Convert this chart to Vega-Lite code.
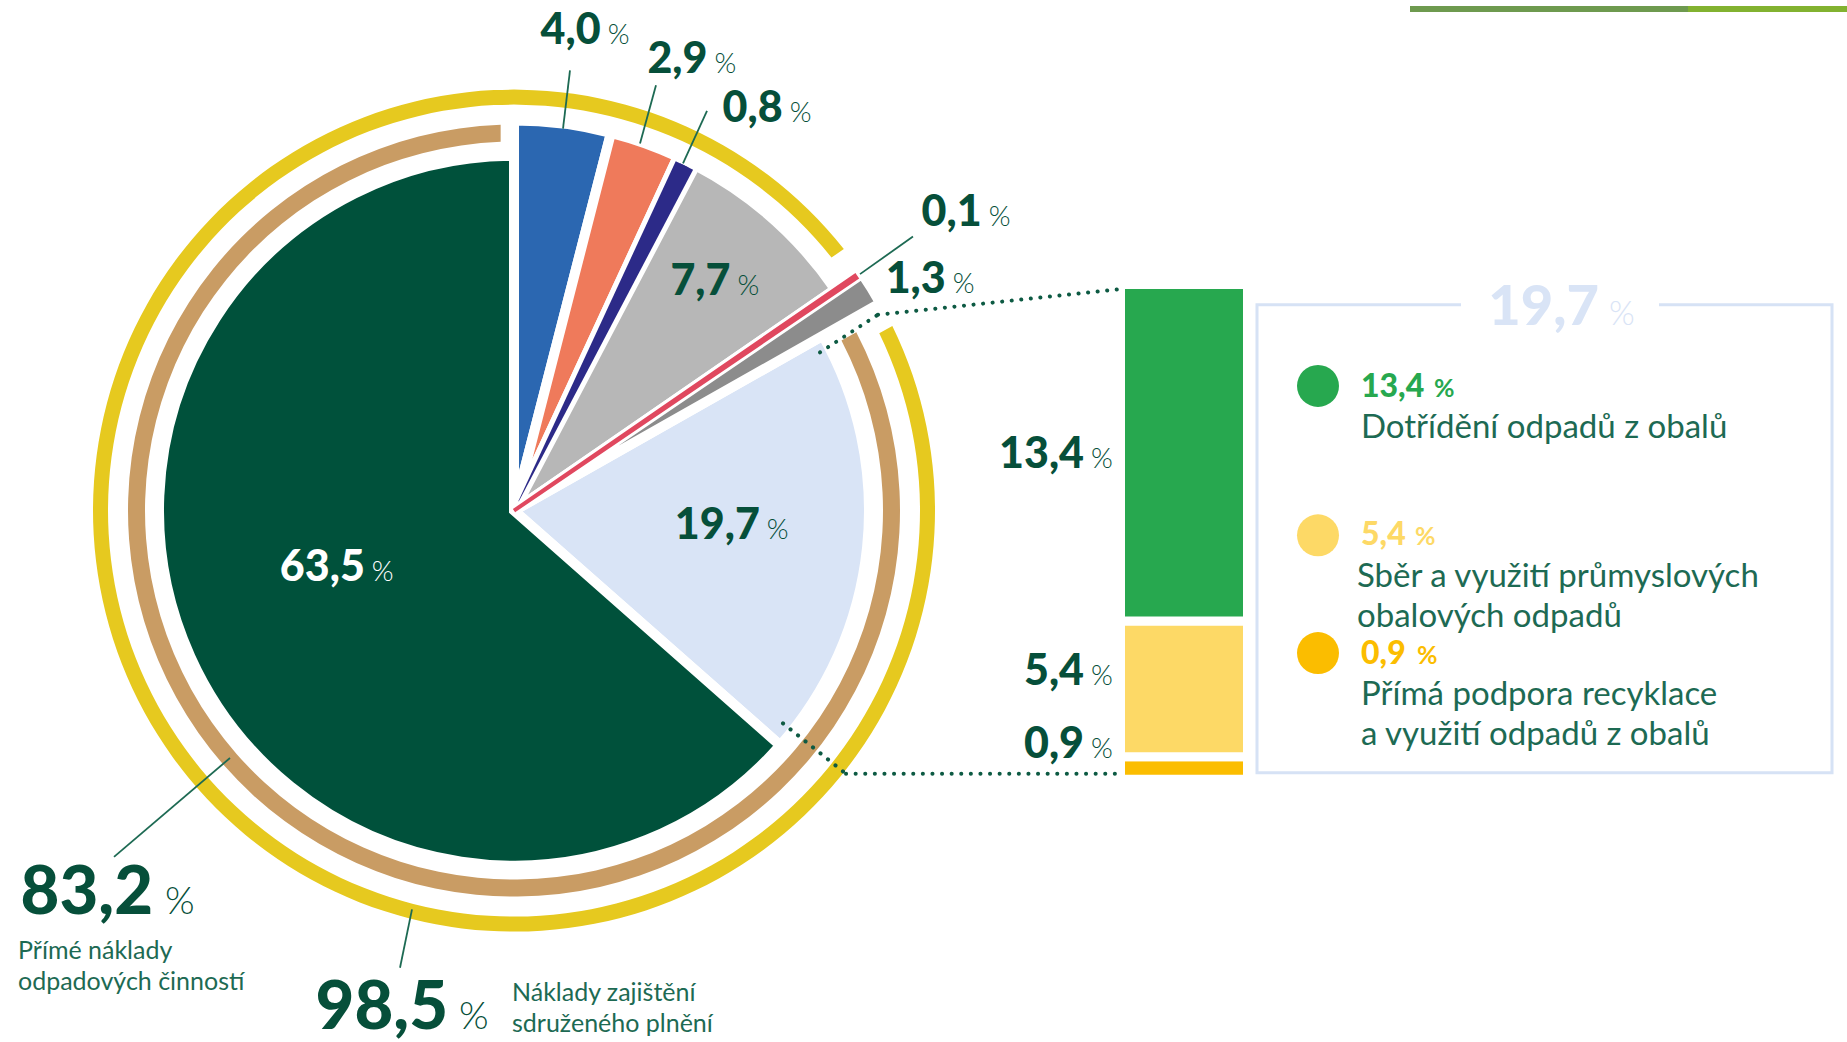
{
  "$schema": "https://vega.github.io/schema/vega-lite/v6.json",
  "width": 1847,
  "height": 1042,
  "autosize": {"type": "fit", "contains": "padding"},
  "padding": 0,
  "background": "white",
  "config": {
    "view": {"stroke": null},
    "locale": {"number": {"decimal": ",", "thousands": " ", "grouping": [3], "currency": ["", " Kč"]}}
  },
  "datasets": {
    "pie": [
      {"key": "S1", "value": 19.7, "order": 1, "grp": "prime"},
      {"key": "S2", "value": 63.5, "order": 2, "grp": "prime"},
      {"key": "S3", "value": 4.0, "order": 3, "grp": "sdruzene"},
      {"key": "S4", "value": 2.9, "order": 4, "grp": "sdruzene"},
      {"key": "S5", "value": 0.8, "order": 5, "grp": "sdruzene"},
      {"key": "S6", "value": 7.7, "order": 6, "grp": "sdruzene"},
      {"key": "S7", "value": 0.1, "order": 7, "grp": "ostatni"},
      {"key": "S8", "value": 1.3, "order": 8, "grp": "ostatni"}
    ],
    "rings": [
      {"key": "prime", "name": "Přímé náklady\nodpadových činností", "value": 83.2},
      {"key": "sdruzene", "name": "Náklady zajištění\nsdruženého plnění", "value": 98.5}
    ],
    "bar": [
      {"key": "B1", "name": "Přímá podpora recyklace\na využití odpadů z obalů", "value": 0.9, "order": 1},
      {"key": "B2", "name": "Sběr a využití průmyslových\nobalových odpadů", "value": 5.4, "order": 2},
      {"key": "B3", "name": "Dotřídění odpadů z obalů", "value": 13.4, "order": 3}
    ]
  },
  "resolve": {"scale": {"y": "independent", "color": "independent"}},
  "layer": [
    {
      "data": {"name": "pie"},
      "encoding": {
        "x": {"datum": 514, "type": "quantitative", "scale": {"domain": [0, 1847], "nice": false, "zero": false}, "axis": null},
        "y": {"datum": 510, "type": "quantitative", "scale": {"domain": [0, 1042], "reverse": true, "nice": false, "zero": false}, "axis": null}
      },
      "layer": [
        {
          "data": {"name": "rings"},
          "transform": [{"filter": "datum.key === 'sdruzene'"}],
          "mark": {"type": "arc", "innerRadius": 406, "outerRadius": 421, "padAngle": 0.088},
          "encoding": {
            "theta": {"field": "value", "type": "quantitative", "stack": true, "scale": {"domain": [0, 100], "range": [1.055575, 7.33876], "zero": false}},
            "color": {"field": "key", "type": "nominal", "legend": null, "scale": {"domain": ["S1", "S2", "S3", "S4", "S5", "S6", "S7", "S8", "prime", "sdruzene"], "range": ["#d9e4f6", "#00513b", "#2b67b1", "#ef7a5b", "#2c2a88", "#b7b7b7", "#e0485f", "#8c8c8c", "#c99c64", "#e6c91f"]}}
          }
        },
        {
          "data": {"name": "rings"},
          "transform": [{"filter": "datum.key === 'prime'"}],
          "mark": {"type": "arc", "innerRadius": 369, "outerRadius": 386, "padAngle": 0.05},
          "encoding": {
            "theta": {"field": "value", "type": "quantitative", "stack": true, "scale": {"domain": [0, 100], "range": [1.055575, 7.33876], "zero": false}},
            "color": {"field": "key", "type": "nominal", "legend": null, "scale": {"domain": ["S1", "S2", "S3", "S4", "S5", "S6", "S7", "S8", "prime", "sdruzene"], "range": ["#d9e4f6", "#00513b", "#2b67b1", "#ef7a5b", "#2c2a88", "#b7b7b7", "#e0485f", "#8c8c8c", "#c99c64", "#e6c91f"]}}
          }
        },
        {
          "transform": [
            {"stack": "value", "groupby": [], "sort": [{"field": "order", "order": "ascending"}], "as": ["s0", "s1"]},
            {"filter": "datum.grp === 'prime'"}
          ],
          "mark": {"type": "arc", "outerRadius": 355, "stroke": "white", "strokeWidth": 10},
          "encoding": {
            "theta": {"field": "s0", "type": "quantitative", "scale": {"domain": [0, 100], "range": [1.055575, 7.33876], "zero": false}},
            "theta2": {"field": "s1"},
            "color": {"field": "key", "type": "nominal", "legend": null, "scale": {"domain": ["S1", "S2", "S3", "S4", "S5", "S6", "S7", "S8", "prime", "sdruzene"], "range": ["#d9e4f6", "#00513b", "#2b67b1", "#ef7a5b", "#2c2a88", "#b7b7b7", "#e0485f", "#8c8c8c", "#c99c64", "#e6c91f"]}}
          }
        },
        {
          "transform": [
            {"stack": "value", "groupby": [], "sort": [{"field": "order", "order": "ascending"}], "as": ["s0", "s1"]},
            {"filter": "datum.grp === 'sdruzene'"}
          ],
          "mark": {"type": "arc", "outerRadius": 390, "stroke": "white", "strokeWidth": 10},
          "encoding": {
            "theta": {"field": "s0", "type": "quantitative", "scale": {"domain": [0, 100], "range": [1.055575, 7.33876], "zero": false}},
            "theta2": {"field": "s1"},
            "color": {"field": "key", "type": "nominal", "legend": null, "scale": {"domain": ["S1", "S2", "S3", "S4", "S5", "S6", "S7", "S8", "prime", "sdruzene"], "range": ["#d9e4f6", "#00513b", "#2b67b1", "#ef7a5b", "#2c2a88", "#b7b7b7", "#e0485f", "#8c8c8c", "#c99c64", "#e6c91f"]}}
          }
        },
        {
          "transform": [
            {"stack": "value", "groupby": [], "sort": [{"field": "order", "order": "ascending"}], "as": ["s0", "s1"]},
            {"filter": "datum.key === 'S5'"}
          ],
          "mark": {"type": "arc", "outerRadius": 385},
          "encoding": {
            "theta": {"field": "s0", "type": "quantitative", "scale": {"domain": [0, 100], "range": [1.055575, 7.33876], "zero": false}},
            "theta2": {"field": "s1"},
            "color": {"field": "key", "type": "nominal", "legend": null, "scale": {"domain": ["S1", "S2", "S3", "S4", "S5", "S6", "S7", "S8", "prime", "sdruzene"], "range": ["#d9e4f6", "#00513b", "#2b67b1", "#ef7a5b", "#2c2a88", "#b7b7b7", "#e0485f", "#8c8c8c", "#c99c64", "#e6c91f"]}}
          }
        },
        {
          "transform": [
            {"stack": "value", "groupby": [], "sort": [{"field": "order", "order": "ascending"}], "as": ["s0", "s1"]},
            {"filter": "datum.grp === 'ostatni'"}
          ],
          "mark": {"type": "arc", "outerRadius": 421, "stroke": "white", "strokeWidth": 10},
          "encoding": {
            "theta": {"field": "s0", "type": "quantitative", "scale": {"domain": [0, 100], "range": [1.055575, 7.33876], "zero": false}},
            "theta2": {"field": "s1"},
            "color": {"field": "key", "type": "nominal", "legend": null, "scale": {"domain": ["S1", "S2", "S3", "S4", "S5", "S6", "S7", "S8", "prime", "sdruzene"], "range": ["#d9e4f6", "#00513b", "#2b67b1", "#ef7a5b", "#2c2a88", "#b7b7b7", "#e0485f", "#8c8c8c", "#c99c64", "#e6c91f"]}}
          }
        },
        {
          "transform": [
            {"stack": "value", "groupby": [], "sort": [{"field": "order", "order": "ascending"}], "as": ["s0", "s1"]},
            {"filter": "datum.key === 'S7'"}
          ],
          "mark": {"type": "arc", "outerRadius": 414, "stroke": "#e0485f", "strokeWidth": 4},
          "encoding": {
            "theta": {"field": "s0", "type": "quantitative", "scale": {"domain": [0, 100], "range": [1.055575, 7.33876], "zero": false}},
            "theta2": {"field": "s1"},
            "color": {"field": "key", "type": "nominal", "legend": null, "scale": {"domain": ["S1", "S2", "S3", "S4", "S5", "S6", "S7", "S8", "prime", "sdruzene"], "range": ["#d9e4f6", "#00513b", "#2b67b1", "#ef7a5b", "#2c2a88", "#b7b7b7", "#e0485f", "#8c8c8c", "#c99c64", "#e6c91f"]}}
          }
        },
        {
          "mark": {"type": "text", "radius": 460, "dx": 29, "dy": -10, "align": "right", "baseline": "alphabetic", "font": "Lato", "fontWeight": 900, "fontSize": 43, "color": "#064f3a"},
          "encoding": {"theta": {"field": "value", "type": "quantitative", "stack": true}, "order": {"field": "order", "type": "quantitative"},
            "text": {"condition": {"test": "datum.key === 'S3'", "field": "value", "type": "quantitative", "format": ".1f"}, "value": ""}}
        },
        {
          "mark": {"type": "text", "radius": 460, "dx": 36, "dy": -10, "align": "left", "baseline": "alphabetic", "font": "Lato", "fontWeight": 300, "fontSize": 28, "color": "#064f3a"},
          "encoding": {"theta": {"field": "value", "type": "quantitative", "stack": true}, "order": {"field": "order", "type": "quantitative"},
            "text": {"condition": {"test": "datum.key === 'S3'", "value": "%"}, "value": ""}}
        },
        {
          "mark": {"type": "text", "radius": 460, "dx": 39, "dy": -4, "align": "right", "baseline": "alphabetic", "font": "Lato", "fontWeight": 900, "fontSize": 43, "color": "#064f3a"},
          "encoding": {"theta": {"field": "value", "type": "quantitative", "stack": true}, "order": {"field": "order", "type": "quantitative"},
            "text": {"condition": {"test": "datum.key === 'S4'", "field": "value", "type": "quantitative", "format": ".1f"}, "value": ""}}
        },
        {
          "mark": {"type": "text", "radius": 460, "dx": 46, "dy": -4, "align": "left", "baseline": "alphabetic", "font": "Lato", "fontWeight": 300, "fontSize": 28, "color": "#064f3a"},
          "encoding": {"theta": {"field": "value", "type": "quantitative", "stack": true}, "order": {"field": "order", "type": "quantitative"},
            "text": {"condition": {"test": "datum.key === 'S4'", "value": "%"}, "value": ""}}
        },
        {
          "mark": {"type": "text", "radius": 460, "dx": 65, "dy": 24, "align": "right", "baseline": "alphabetic", "font": "Lato", "fontWeight": 900, "fontSize": 43, "color": "#064f3a"},
          "encoding": {"theta": {"field": "value", "type": "quantitative", "stack": true}, "order": {"field": "order", "type": "quantitative"},
            "text": {"condition": {"test": "datum.key === 'S5'", "field": "value", "type": "quantitative", "format": ".1f"}, "value": ""}}
        },
        {
          "mark": {"type": "text", "radius": 460, "dx": 72, "dy": 24, "align": "left", "baseline": "alphabetic", "font": "Lato", "fontWeight": 300, "fontSize": 28, "color": "#064f3a"},
          "encoding": {"theta": {"field": "value", "type": "quantitative", "stack": true}, "order": {"field": "order", "type": "quantitative"},
            "text": {"condition": {"test": "datum.key === 'S5'", "value": "%"}, "value": ""}}
        },
        {
          "mark": {"type": "text", "radius": 460, "dx": 88, "dy": -25, "align": "right", "baseline": "alphabetic", "font": "Lato", "fontWeight": 900, "fontSize": 43, "color": "#064f3a"},
          "encoding": {"theta": {"field": "value", "type": "quantitative", "stack": true}, "order": {"field": "order", "type": "quantitative"},
            "text": {"condition": {"test": "datum.key === 'S7'", "field": "value", "type": "quantitative", "format": ".1f"}, "value": ""}}
        },
        {
          "mark": {"type": "text", "radius": 460, "dx": 95, "dy": -25, "align": "left", "baseline": "alphabetic", "font": "Lato", "fontWeight": 300, "fontSize": 28, "color": "#064f3a"},
          "encoding": {"theta": {"field": "value", "type": "quantitative", "stack": true}, "order": {"field": "order", "type": "quantitative"},
            "text": {"condition": {"test": "datum.key === 'S7'", "value": "%"}, "value": ""}}
        },
        {
          "mark": {"type": "text", "radius": 460, "dx": 41, "dy": 25, "align": "right", "baseline": "alphabetic", "font": "Lato", "fontWeight": 900, "fontSize": 43, "color": "#064f3a"},
          "encoding": {"theta": {"field": "value", "type": "quantitative", "stack": true}, "order": {"field": "order", "type": "quantitative"},
            "text": {"condition": {"test": "datum.key === 'S8'", "field": "value", "type": "quantitative", "format": ".1f"}, "value": ""}}
        },
        {
          "mark": {"type": "text", "radius": 460, "dx": 48, "dy": 25, "align": "left", "baseline": "alphabetic", "font": "Lato", "fontWeight": 300, "fontSize": 28, "color": "#064f3a"},
          "encoding": {"theta": {"field": "value", "type": "quantitative", "stack": true}, "order": {"field": "order", "type": "quantitative"},
            "text": {"condition": {"test": "datum.key === 'S8'", "value": "%"}, "value": ""}}
        },
        {
          "mark": {"type": "text", "radius": 290, "dx": 24, "dy": 1, "align": "right", "baseline": "alphabetic", "font": "Lato", "fontWeight": 900, "fontSize": 43, "color": "#064f3a"},
          "encoding": {"theta": {"field": "value", "type": "quantitative", "stack": true}, "order": {"field": "order", "type": "quantitative"},
            "text": {"condition": {"test": "datum.key === 'S6'", "field": "value", "type": "quantitative", "format": ".1f"}, "value": ""}}
        },
        {
          "mark": {"type": "text", "radius": 290, "dx": 31, "dy": 1, "align": "left", "baseline": "alphabetic", "font": "Lato", "fontWeight": 300, "fontSize": 28, "color": "#064f3a"},
          "encoding": {"theta": {"field": "value", "type": "quantitative", "stack": true}, "order": {"field": "order", "type": "quantitative"},
            "text": {"condition": {"test": "datum.key === 'S6'", "value": "%"}, "value": ""}}
        },
        {
          "mark": {"type": "text", "radius": 215, "dx": 32, "dy": 6, "align": "right", "baseline": "alphabetic", "font": "Lato", "fontWeight": 900, "fontSize": 43, "color": "#064f3a"},
          "encoding": {"theta": {"field": "value", "type": "quantitative", "stack": true}, "order": {"field": "order", "type": "quantitative"},
            "text": {"condition": {"test": "datum.key === 'S1'", "field": "value", "type": "quantitative", "format": ".1f"}, "value": ""}}
        },
        {
          "mark": {"type": "text", "radius": 215, "dx": 39, "dy": 6, "align": "left", "baseline": "alphabetic", "font": "Lato", "fontWeight": 300, "fontSize": 28, "color": "#064f3a"},
          "encoding": {"theta": {"field": "value", "type": "quantitative", "stack": true}, "order": {"field": "order", "type": "quantitative"},
            "text": {"condition": {"test": "datum.key === 'S1'", "value": "%"}, "value": ""}}
        },
        {
          "mark": {"type": "text", "radius": 190, "dx": 24, "dy": -8, "align": "right", "baseline": "alphabetic", "font": "Lato", "fontWeight": 900, "fontSize": 43, "color": "#ffffff"},
          "encoding": {"theta": {"field": "value", "type": "quantitative", "stack": true}, "order": {"field": "order", "type": "quantitative"},
            "text": {"condition": {"test": "datum.key === 'S2'", "field": "value", "type": "quantitative", "format": ".1f"}, "value": ""}}
        },
        {
          "mark": {"type": "text", "radius": 190, "dx": 31, "dy": -8, "align": "left", "baseline": "alphabetic", "font": "Lato", "fontWeight": 300, "fontSize": 28, "color": "#ffffff"},
          "encoding": {"theta": {"field": "value", "type": "quantitative", "stack": true}, "order": {"field": "order", "type": "quantitative"},
            "text": {"condition": {"test": "datum.key === 'S2'", "value": "%"}, "value": ""}}
        }
      ]
    },
    {
      "data": {"name": "bar"},
      "transform": [{"stack": "value", "groupby": [], "sort": [{"field": "order", "order": "ascending"}], "as": ["b0", "b1"]}],
      "layer": [
        {
          "mark": {"type": "rect", "stroke": "white", "strokeWidth": 9},
          "encoding": {
            "x": {"datum": 1120.5, "type": "quantitative", "scale": {"domain": [0, 1847], "nice": false, "zero": false}, "axis": null},
            "x2": {"datum": 1247.5},
            "y": {"field": "b0", "type": "quantitative", "scale": {"domain": [-10.2636, 30.79], "nice": false, "zero": false}, "axis": null},
            "y2": {"field": "b1"},
            "color": {"field": "key", "type": "nominal", "legend": null, "scale": {"domain": ["B1", "B2", "B3"], "range": ["#fbbd00", "#fdd966", "#27a84f"]}}
          }
        },
        {
          "transform": [{"filter": "datum.key === 'B3'"}],
          "mark": {"type": "text", "align": "right", "baseline": "alphabetic", "dy": 183.5, "font": "Lato", "fontWeight": 900, "fontSize": 43, "color": "#064f3a"},
          "encoding": {
            "x": {"datum": 1084, "type": "quantitative", "scale": {"domain": [0, 1847], "nice": false, "zero": false}, "axis": null},
            "y": {"field": "b1", "type": "quantitative", "scale": {"domain": [-10.2636, 30.79], "nice": false, "zero": false}, "axis": null},
            "text": {"field": "value", "type": "quantitative", "format": ".1f"}
          }
        },
        {
          "transform": [{"filter": "datum.key === 'B3'"}],
          "mark": {"type": "text", "align": "left", "baseline": "alphabetic", "dy": 183.5, "font": "Lato", "fontWeight": 300, "fontSize": 28, "color": "#064f3a", "text": "%"},
          "encoding": {
            "x": {"datum": 1091, "type": "quantitative", "scale": {"domain": [0, 1847], "nice": false, "zero": false}, "axis": null},
            "y": {"field": "b1", "type": "quantitative", "scale": {"domain": [-10.2636, 30.79], "nice": false, "zero": false}, "axis": null}
          }
        },
        {
          "transform": [{"filter": "datum.key === 'B2'"}],
          "mark": {"type": "text", "align": "right", "baseline": "alphabetic", "dy": 64.4, "font": "Lato", "fontWeight": 900, "fontSize": 43, "color": "#064f3a"},
          "encoding": {
            "x": {"datum": 1084, "type": "quantitative", "scale": {"domain": [0, 1847], "nice": false, "zero": false}, "axis": null},
            "y": {"field": "b1", "type": "quantitative", "scale": {"domain": [-10.2636, 30.79], "nice": false, "zero": false}, "axis": null},
            "text": {"field": "value", "type": "quantitative", "format": ".1f"}
          }
        },
        {
          "transform": [{"filter": "datum.key === 'B2'"}],
          "mark": {"type": "text", "align": "left", "baseline": "alphabetic", "dy": 64.4, "font": "Lato", "fontWeight": 300, "fontSize": 28, "color": "#064f3a", "text": "%"},
          "encoding": {
            "x": {"datum": 1091, "type": "quantitative", "scale": {"domain": [0, 1847], "nice": false, "zero": false}, "axis": null},
            "y": {"field": "b1", "type": "quantitative", "scale": {"domain": [-10.2636, 30.79], "nice": false, "zero": false}, "axis": null}
          }
        },
        {
          "transform": [{"filter": "datum.key === 'B1'"}],
          "mark": {"type": "text", "align": "right", "baseline": "alphabetic", "dy": 1.3, "font": "Lato", "fontWeight": 900, "fontSize": 43, "color": "#064f3a"},
          "encoding": {
            "x": {"datum": 1084, "type": "quantitative", "scale": {"domain": [0, 1847], "nice": false, "zero": false}, "axis": null},
            "y": {"field": "b1", "type": "quantitative", "scale": {"domain": [-10.2636, 30.79], "nice": false, "zero": false}, "axis": null},
            "text": {"field": "value", "type": "quantitative", "format": ".1f"}
          }
        },
        {
          "transform": [{"filter": "datum.key === 'B1'"}],
          "mark": {"type": "text", "align": "left", "baseline": "alphabetic", "dy": 1.3, "font": "Lato", "fontWeight": 300, "fontSize": 28, "color": "#064f3a", "text": "%"},
          "encoding": {
            "x": {"datum": 1091, "type": "quantitative", "scale": {"domain": [0, 1847], "nice": false, "zero": false}, "axis": null},
            "y": {"field": "b1", "type": "quantitative", "scale": {"domain": [-10.2636, 30.79], "nice": false, "zero": false}, "axis": null}
          }
        }
      ]
    },
    {
      "layer": [
        {
          "data": {"name": "pie"}, "transform": [{"filter": "datum.key === 'S3'"}],
          "mark": {"type": "rule", "color": "#1d6a53", "strokeWidth": 1.8},
          "encoding": {
            "x": {"datum": 563, "type": "quantitative", "scale": {"domain": [0, 1847], "nice": false, "zero": false}, "axis": null},
            "y": {"datum": 124, "type": "quantitative", "scale": {"domain": [0, 1042], "reverse": true, "nice": false, "zero": false}, "axis": null},
            "x2": {"datum": 570}, "y2": {"datum": 65}
          }
        },
        {
          "data": {"name": "pie"}, "transform": [{"filter": "datum.key === 'S4'"}],
          "mark": {"type": "rule", "color": "#1d6a53", "strokeWidth": 1.8},
          "encoding": {
            "x": {"datum": 640, "type": "quantitative", "scale": {"domain": [0, 1847], "nice": false, "zero": false}, "axis": null},
            "y": {"datum": 139, "type": "quantitative", "scale": {"domain": [0, 1042], "reverse": true, "nice": false, "zero": false}, "axis": null},
            "x2": {"datum": 656}, "y2": {"datum": 80}
          }
        },
        {
          "data": {"name": "pie"}, "transform": [{"filter": "datum.key === 'S5'"}],
          "mark": {"type": "rule", "color": "#1d6a53", "strokeWidth": 1.8},
          "encoding": {
            "x": {"datum": 683, "type": "quantitative", "scale": {"domain": [0, 1847], "nice": false, "zero": false}, "axis": null},
            "y": {"datum": 159, "type": "quantitative", "scale": {"domain": [0, 1042], "reverse": true, "nice": false, "zero": false}, "axis": null},
            "x2": {"datum": 707}, "y2": {"datum": 106}
          }
        },
        {
          "data": {"name": "pie"}, "transform": [{"filter": "datum.key === 'S7'"}],
          "mark": {"type": "rule", "color": "#1d6a53", "strokeWidth": 1.8},
          "encoding": {
            "x": {"datum": 860, "type": "quantitative", "scale": {"domain": [0, 1847], "nice": false, "zero": false}, "axis": null},
            "y": {"datum": 271, "type": "quantitative", "scale": {"domain": [0, 1042], "reverse": true, "nice": false, "zero": false}, "axis": null},
            "x2": {"datum": 913}, "y2": {"datum": 233}
          }
        },
        {
          "data": {"name": "rings"}, "transform": [{"filter": "datum.key === 'prime'"}],
          "mark": {"type": "rule", "color": "#1d6a53", "strokeWidth": 1.8},
          "encoding": {
            "x": {"datum": 230, "type": "quantitative", "scale": {"domain": [0, 1847], "nice": false, "zero": false}, "axis": null},
            "y": {"datum": 760, "type": "quantitative", "scale": {"domain": [0, 1042], "reverse": true, "nice": false, "zero": false}, "axis": null},
            "x2": {"datum": 114}, "y2": {"datum": 860}
          }
        },
        {
          "data": {"name": "rings"}, "transform": [{"filter": "datum.key === 'sdruzene'"}],
          "mark": {"type": "rule", "color": "#1d6a53", "strokeWidth": 1.8},
          "encoding": {
            "x": {"datum": 412, "type": "quantitative", "scale": {"domain": [0, 1847], "nice": false, "zero": false}, "axis": null},
            "y": {"datum": 913, "type": "quantitative", "scale": {"domain": [0, 1042], "reverse": true, "nice": false, "zero": false}, "axis": null},
            "x2": {"datum": 400}, "y2": {"datum": 972}
          }
        },
        {
          "data": {"name": "pie"}, "transform": [{"filter": "datum.key === 'S1'"}],
          "mark": {"type": "rule", "color": "#0d5a43", "strokeWidth": 4, "strokeCap": "round", "strokeDash": [0.1, 9.5]},
          "encoding": {
            "x": {"datum": 820, "type": "quantitative", "scale": {"domain": [0, 1847], "nice": false, "zero": false}, "axis": null},
            "y": {"datum": 350, "type": "quantitative", "scale": {"domain": [0, 1042], "reverse": true, "nice": false, "zero": false}, "axis": null},
            "x2": {"datum": 878}, "y2": {"datum": 312}
          }
        },
        {
          "data": {"name": "pie"}, "transform": [{"filter": "datum.key === 'S1'"}],
          "mark": {"type": "rule", "color": "#0d5a43", "strokeWidth": 4, "strokeCap": "round", "strokeDash": [0.1, 9.5]},
          "encoding": {
            "x": {"datum": 878, "type": "quantitative", "scale": {"domain": [0, 1847], "nice": false, "zero": false}, "axis": null},
            "y": {"datum": 312, "type": "quantitative", "scale": {"domain": [0, 1042], "reverse": true, "nice": false, "zero": false}, "axis": null},
            "x2": {"datum": 1122}, "y2": {"datum": 286}
          }
        },
        {
          "data": {"name": "pie"}, "transform": [{"filter": "datum.key === 'S1'"}],
          "mark": {"type": "rule", "color": "#0d5a43", "strokeWidth": 4, "strokeCap": "round", "strokeDash": [0.1, 9.5]},
          "encoding": {
            "x": {"datum": 783, "type": "quantitative", "scale": {"domain": [0, 1847], "nice": false, "zero": false}, "axis": null},
            "y": {"datum": 725, "type": "quantitative", "scale": {"domain": [0, 1042], "reverse": true, "nice": false, "zero": false}, "axis": null},
            "x2": {"datum": 846}, "y2": {"datum": 776}
          }
        },
        {
          "data": {"name": "pie"}, "transform": [{"filter": "datum.key === 'S1'"}],
          "mark": {"type": "rule", "color": "#0d5a43", "strokeWidth": 4, "strokeCap": "round", "strokeDash": [0.1, 9.5]},
          "encoding": {
            "x": {"datum": 846, "type": "quantitative", "scale": {"domain": [0, 1847], "nice": false, "zero": false}, "axis": null},
            "y": {"datum": 776, "type": "quantitative", "scale": {"domain": [0, 1042], "reverse": true, "nice": false, "zero": false}, "axis": null},
            "x2": {"datum": 1122}, "y2": {"datum": 776}
          }
        },
        {
          "data": {"name": "pie"}, "transform": [{"filter": "datum.key === 'S1'"}],
          "mark": {"type": "rect", "filled": false, "color": "#d6e2f5", "strokeWidth": 3},
          "encoding": {
            "x": {"datum": 1257, "type": "quantitative", "scale": {"domain": [0, 1847], "nice": false, "zero": false}, "axis": null},
            "y": {"datum": 302, "type": "quantitative", "scale": {"domain": [0, 1042], "reverse": true, "nice": false, "zero": false}, "axis": null},
            "x2": {"datum": 1832}, "y2": {"datum": 775}
          }
        },
        {
          "data": {"name": "pie"}, "transform": [{"filter": "datum.key === 'S1'"}],
          "mark": {"type": "rect", "color": "#ffffff"},
          "encoding": {
            "x": {"datum": 1461, "type": "quantitative", "scale": {"domain": [0, 1847], "nice": false, "zero": false}, "axis": null},
            "y": {"datum": 294, "type": "quantitative", "scale": {"domain": [0, 1042], "reverse": true, "nice": false, "zero": false}, "axis": null},
            "x2": {"datum": 1659}, "y2": {"datum": 310}
          }
        },
        {
          "data": {"name": "pie"}, "transform": [{"filter": "datum.key === 'S1'"}],
          "mark": {"type": "text", "align": "right", "baseline": "alphabetic", "font": "Lato", "fontWeight": 900, "fontSize": 56, "color": "#d9e4f6"},
          "encoding": {
            "x": {"datum": 1599, "type": "quantitative", "scale": {"domain": [0, 1847], "nice": false, "zero": false}, "axis": null},
            "y": {"datum": 322, "type": "quantitative", "scale": {"domain": [0, 1042], "reverse": true, "nice": false, "zero": false}, "axis": null},
            "text": {"field": "value", "type": "quantitative", "format": ".1f"}
          }
        },
        {
          "data": {"name": "pie"}, "transform": [{"filter": "datum.key === 'S1'"}],
          "mark": {"type": "text", "align": "left", "baseline": "alphabetic", "font": "Lato", "fontWeight": 300, "fontSize": 33, "color": "#d9e4f6", "text": "%"},
          "encoding": {
            "x": {"datum": 1609, "type": "quantitative", "scale": {"domain": [0, 1847], "nice": false, "zero": false}, "axis": null},
            "y": {"datum": 322, "type": "quantitative", "scale": {"domain": [0, 1042], "reverse": true, "nice": false, "zero": false}, "axis": null}
          }
        },
        {
          "data": {"name": "rings"}, "transform": [{"filter": "datum.key === 'prime'"}],
          "mark": {"type": "text", "align": "right", "baseline": "alphabetic", "font": "Lato", "fontWeight": 900, "fontSize": 67, "color": "#064f3a"},
          "encoding": {
            "x": {"datum": 153, "type": "quantitative", "scale": {"domain": [0, 1847], "nice": false, "zero": false}, "axis": null},
            "y": {"datum": 918, "type": "quantitative", "scale": {"domain": [0, 1042], "reverse": true, "nice": false, "zero": false}, "axis": null},
            "text": {"field": "value", "type": "quantitative", "format": ".1f"}
          }
        },
        {
          "data": {"name": "rings"}, "transform": [{"filter": "datum.key === 'prime'"}],
          "mark": {"type": "text", "align": "left", "baseline": "alphabetic", "font": "Lato", "fontWeight": 300, "fontSize": 38, "color": "#064f3a", "text": "%"},
          "encoding": {
            "x": {"datum": 165, "type": "quantitative", "scale": {"domain": [0, 1847], "nice": false, "zero": false}, "axis": null},
            "y": {"datum": 918, "type": "quantitative", "scale": {"domain": [0, 1042], "reverse": true, "nice": false, "zero": false}, "axis": null}
          }
        },
        {
          "data": {"name": "rings"}, "transform": [{"filter": "datum.key === 'prime'"}],
          "mark": {"type": "text", "align": "left", "baseline": "alphabetic", "font": "Lato", "fontSize": 25, "lineHeight": 31, "lineBreak": "\n", "color": "#1d6a53"},
          "encoding": {
            "x": {"datum": 18, "type": "quantitative", "scale": {"domain": [0, 1847], "nice": false, "zero": false}, "axis": null},
            "y": {"datum": 963, "type": "quantitative", "scale": {"domain": [0, 1042], "reverse": true, "nice": false, "zero": false}, "axis": null},
            "text": {"field": "name", "type": "nominal"}
          }
        },
        {
          "data": {"name": "rings"}, "transform": [{"filter": "datum.key === 'sdruzene'"}],
          "mark": {"type": "text", "align": "right", "baseline": "alphabetic", "font": "Lato", "fontWeight": 900, "fontSize": 67, "color": "#064f3a"},
          "encoding": {
            "x": {"datum": 448, "type": "quantitative", "scale": {"domain": [0, 1847], "nice": false, "zero": false}, "axis": null},
            "y": {"datum": 1034, "type": "quantitative", "scale": {"domain": [0, 1042], "reverse": true, "nice": false, "zero": false}, "axis": null},
            "text": {"field": "value", "type": "quantitative", "format": ".1f"}
          }
        },
        {
          "data": {"name": "rings"}, "transform": [{"filter": "datum.key === 'sdruzene'"}],
          "mark": {"type": "text", "align": "left", "baseline": "alphabetic", "font": "Lato", "fontWeight": 300, "fontSize": 38, "color": "#064f3a", "text": "%"},
          "encoding": {
            "x": {"datum": 459, "type": "quantitative", "scale": {"domain": [0, 1847], "nice": false, "zero": false}, "axis": null},
            "y": {"datum": 1034, "type": "quantitative", "scale": {"domain": [0, 1042], "reverse": true, "nice": false, "zero": false}, "axis": null}
          }
        },
        {
          "data": {"name": "rings"}, "transform": [{"filter": "datum.key === 'sdruzene'"}],
          "mark": {"type": "text", "align": "left", "baseline": "alphabetic", "font": "Lato", "fontSize": 25, "lineHeight": 31, "lineBreak": "\n", "color": "#1d6a53"},
          "encoding": {
            "x": {"datum": 512, "type": "quantitative", "scale": {"domain": [0, 1847], "nice": false, "zero": false}, "axis": null},
            "y": {"datum": 1006, "type": "quantitative", "scale": {"domain": [0, 1042], "reverse": true, "nice": false, "zero": false}, "axis": null},
            "text": {"field": "name", "type": "nominal"}
          }
        },
        {
          "data": {"name": "bar"}, "transform": [{"filter": "datum.key === 'B3'"}],
          "mark": {"type": "point", "filled": true, "size": 1764, "opacity": 1},
          "encoding": {
            "x": {"datum": 1318, "type": "quantitative", "scale": {"domain": [0, 1847], "nice": false, "zero": false}, "axis": null},
            "y": {"datum": 384, "type": "quantitative", "scale": {"domain": [0, 1042], "reverse": true, "nice": false, "zero": false}, "axis": null},
            "color": {"field": "key", "type": "nominal", "legend": null, "scale": {"domain": ["B1", "B2", "B3"], "range": ["#fbbd00", "#fdd966", "#27a84f"]}}
          }
        },
        {
          "data": {"name": "bar"}, "transform": [{"filter": "datum.key === 'B2'"}],
          "mark": {"type": "point", "filled": true, "size": 1764, "opacity": 1},
          "encoding": {
            "x": {"datum": 1318, "type": "quantitative", "scale": {"domain": [0, 1847], "nice": false, "zero": false}, "axis": null},
            "y": {"datum": 535, "type": "quantitative", "scale": {"domain": [0, 1042], "reverse": true, "nice": false, "zero": false}, "axis": null},
            "color": {"field": "key", "type": "nominal", "legend": null, "scale": {"domain": ["B1", "B2", "B3"], "range": ["#fbbd00", "#fdd966", "#27a84f"]}}
          }
        },
        {
          "data": {"name": "bar"}, "transform": [{"filter": "datum.key === 'B1'"}],
          "mark": {"type": "point", "filled": true, "size": 1764, "opacity": 1},
          "encoding": {
            "x": {"datum": 1318, "type": "quantitative", "scale": {"domain": [0, 1847], "nice": false, "zero": false}, "axis": null},
            "y": {"datum": 654, "type": "quantitative", "scale": {"domain": [0, 1042], "reverse": true, "nice": false, "zero": false}, "axis": null},
            "color": {"field": "key", "type": "nominal", "legend": null, "scale": {"domain": ["B1", "B2", "B3"], "range": ["#fbbd00", "#fdd966", "#27a84f"]}}
          }
        },
        {
          "data": {"name": "bar"}, "transform": [{"filter": "datum.key === 'B3'"}],
          "mark": {"type": "text", "align": "left", "baseline": "alphabetic", "font": "Lato", "fontWeight": 900, "fontSize": 32},
          "encoding": {
            "x": {"datum": 1361, "type": "quantitative", "scale": {"domain": [0, 1847], "nice": false, "zero": false}, "axis": null},
            "y": {"datum": 395, "type": "quantitative", "scale": {"domain": [0, 1042], "reverse": true, "nice": false, "zero": false}, "axis": null},
            "text": {"field": "value", "type": "quantitative", "format": ".1f"},
            "color": {"field": "key", "type": "nominal", "legend": null, "scale": {"domain": ["B1", "B2", "B3"], "range": ["#fbbd00", "#fdd966", "#27a84f"]}}
          }
        },
        {
          "data": {"name": "bar"}, "transform": [{"filter": "datum.key === 'B3'"}],
          "mark": {"type": "text", "align": "left", "baseline": "alphabetic", "font": "Lato", "fontWeight": "bold", "fontSize": 25, "text": "%"},
          "encoding": {
            "x": {"datum": 1434, "type": "quantitative", "scale": {"domain": [0, 1847], "nice": false, "zero": false}, "axis": null},
            "y": {"datum": 395, "type": "quantitative", "scale": {"domain": [0, 1042], "reverse": true, "nice": false, "zero": false}, "axis": null},
            "color": {"field": "key", "type": "nominal", "legend": null, "scale": {"domain": ["B1", "B2", "B3"], "range": ["#fbbd00", "#fdd966", "#27a84f"]}}
          }
        },
        {
          "data": {"name": "bar"}, "transform": [{"filter": "datum.key === 'B2'"}],
          "mark": {"type": "text", "align": "left", "baseline": "alphabetic", "font": "Lato", "fontWeight": 900, "fontSize": 32},
          "encoding": {
            "x": {"datum": 1361, "type": "quantitative", "scale": {"domain": [0, 1847], "nice": false, "zero": false}, "axis": null},
            "y": {"datum": 545, "type": "quantitative", "scale": {"domain": [0, 1042], "reverse": true, "nice": false, "zero": false}, "axis": null},
            "text": {"field": "value", "type": "quantitative", "format": ".1f"},
            "color": {"field": "key", "type": "nominal", "legend": null, "scale": {"domain": ["B1", "B2", "B3"], "range": ["#fbbd00", "#fdd966", "#27a84f"]}}
          }
        },
        {
          "data": {"name": "bar"}, "transform": [{"filter": "datum.key === 'B2'"}],
          "mark": {"type": "text", "align": "left", "baseline": "alphabetic", "font": "Lato", "fontWeight": "bold", "fontSize": 25, "text": "%"},
          "encoding": {
            "x": {"datum": 1415, "type": "quantitative", "scale": {"domain": [0, 1847], "nice": false, "zero": false}, "axis": null},
            "y": {"datum": 545, "type": "quantitative", "scale": {"domain": [0, 1042], "reverse": true, "nice": false, "zero": false}, "axis": null},
            "color": {"field": "key", "type": "nominal", "legend": null, "scale": {"domain": ["B1", "B2", "B3"], "range": ["#fbbd00", "#fdd966", "#27a84f"]}}
          }
        },
        {
          "data": {"name": "bar"}, "transform": [{"filter": "datum.key === 'B1'"}],
          "mark": {"type": "text", "align": "left", "baseline": "alphabetic", "font": "Lato", "fontWeight": 900, "fontSize": 32},
          "encoding": {
            "x": {"datum": 1361, "type": "quantitative", "scale": {"domain": [0, 1847], "nice": false, "zero": false}, "axis": null},
            "y": {"datum": 665, "type": "quantitative", "scale": {"domain": [0, 1042], "reverse": true, "nice": false, "zero": false}, "axis": null},
            "text": {"field": "value", "type": "quantitative", "format": ".1f"},
            "color": {"field": "key", "type": "nominal", "legend": null, "scale": {"domain": ["B1", "B2", "B3"], "range": ["#fbbd00", "#fdd966", "#27a84f"]}}
          }
        },
        {
          "data": {"name": "bar"}, "transform": [{"filter": "datum.key === 'B1'"}],
          "mark": {"type": "text", "align": "left", "baseline": "alphabetic", "font": "Lato", "fontWeight": "bold", "fontSize": 25, "text": "%"},
          "encoding": {
            "x": {"datum": 1417, "type": "quantitative", "scale": {"domain": [0, 1847], "nice": false, "zero": false}, "axis": null},
            "y": {"datum": 665, "type": "quantitative", "scale": {"domain": [0, 1042], "reverse": true, "nice": false, "zero": false}, "axis": null},
            "color": {"field": "key", "type": "nominal", "legend": null, "scale": {"domain": ["B1", "B2", "B3"], "range": ["#fbbd00", "#fdd966", "#27a84f"]}}
          }
        },
        {
          "data": {"name": "bar"}, "transform": [{"filter": "datum.key === 'B3'"}],
          "mark": {"type": "text", "align": "left", "baseline": "alphabetic", "font": "Lato", "fontSize": 33, "lineHeight": 40, "lineBreak": "\n", "color": "#1d6a53"},
          "encoding": {
            "x": {"datum": 1361, "type": "quantitative", "scale": {"domain": [0, 1847], "nice": false, "zero": false}, "axis": null},
            "y": {"datum": 437, "type": "quantitative", "scale": {"domain": [0, 1042], "reverse": true, "nice": false, "zero": false}, "axis": null},
            "text": {"field": "name", "type": "nominal"}
          }
        },
        {
          "data": {"name": "bar"}, "transform": [{"filter": "datum.key === 'B2'"}],
          "mark": {"type": "text", "align": "left", "baseline": "alphabetic", "font": "Lato", "fontSize": 33, "lineHeight": 40, "lineBreak": "\n", "color": "#1d6a53"},
          "encoding": {
            "x": {"datum": 1357, "type": "quantitative", "scale": {"domain": [0, 1847], "nice": false, "zero": false}, "axis": null},
            "y": {"datum": 587, "type": "quantitative", "scale": {"domain": [0, 1042], "reverse": true, "nice": false, "zero": false}, "axis": null},
            "text": {"field": "name", "type": "nominal"}
          }
        },
        {
          "data": {"name": "bar"}, "transform": [{"filter": "datum.key === 'B1'"}],
          "mark": {"type": "text", "align": "left", "baseline": "alphabetic", "font": "Lato", "fontSize": 33, "lineHeight": 40, "lineBreak": "\n", "color": "#1d6a53"},
          "encoding": {
            "x": {"datum": 1361, "type": "quantitative", "scale": {"domain": [0, 1847], "nice": false, "zero": false}, "axis": null},
            "y": {"datum": 706, "type": "quantitative", "scale": {"domain": [0, 1042], "reverse": true, "nice": false, "zero": false}, "axis": null},
            "text": {"field": "name", "type": "nominal"}
          }
        },
        {
          "data": {"name": "pie"}, "transform": [{"filter": "datum.key === 'S1'"}],
          "mark": {"type": "rect", "color": "#6e9a4f"},
          "encoding": {
            "x": {"datum": 1410, "type": "quantitative", "scale": {"domain": [0, 1847], "nice": false, "zero": false}, "axis": null},
            "y": {"datum": 0, "type": "quantitative", "scale": {"domain": [0, 1042], "reverse": true, "nice": false, "zero": false}, "axis": null},
            "x2": {"datum": 1688}, "y2": {"datum": 6}
          }
        },
        {
          "data": {"name": "pie"}, "transform": [{"filter": "datum.key === 'S1'"}],
          "mark": {"type": "rect", "color": "#82b230"},
          "encoding": {
            "x": {"datum": 1688, "type": "quantitative", "scale": {"domain": [0, 1847], "nice": false, "zero": false}, "axis": null},
            "y": {"datum": 0, "type": "quantitative", "scale": {"domain": [0, 1042], "reverse": true, "nice": false, "zero": false}, "axis": null},
            "x2": {"datum": 1847}, "y2": {"datum": 6}
          }
        }
      ]
    }
  ]
}
